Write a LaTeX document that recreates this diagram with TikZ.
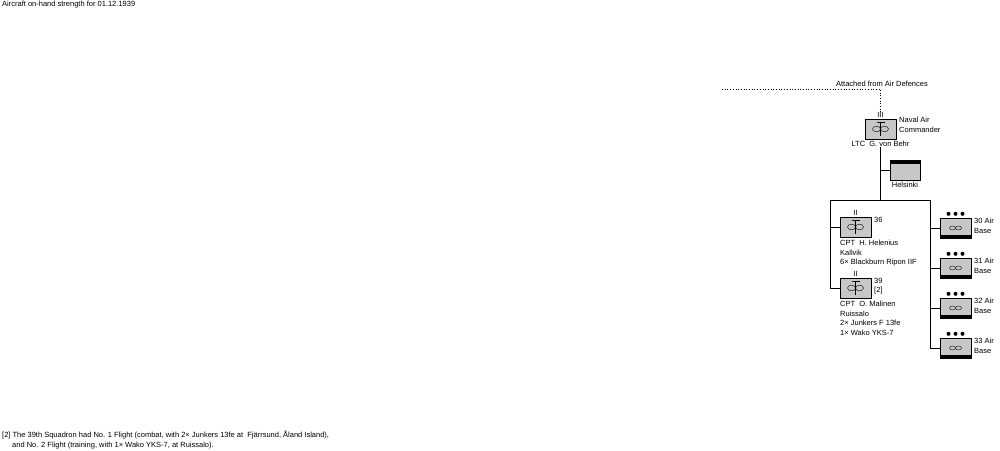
\documentclass[tikz,border=0pt]{standalone}
\usepackage{fontspec}
\setmainfont{Liberation Sans}
\usetikzlibrary{positioning}
\tikzset{
  lbl/.style={inner sep=0pt, font=\fontsize{7.5}{9.5}\selectfont, align=left},
  unitbox/.style={draw, fill=black!22, minimum width=31pt, minimum height=20pt, inner sep=0pt},
}
\newcommand{\propsym}[1]{%
  \draw (#1) ++(-4pt,0) circle[x radius=4pt, y radius=2.8pt];
  \draw (#1) ++(4pt,0) circle[x radius=4pt, y radius=2.8pt];
  \draw (#1) ++(0,-7pt) -- ++(0,14pt) -- ++(-4pt,0) -- ++(8pt,0);}
\newcommand{\basesym}[1]{%
  \draw (#1) ++(-3pt,0) circle[x radius=3pt, y radius=2pt];
  \draw (#1) ++(3pt,0) circle[x radius=3pt, y radius=2pt];}
\begin{document}
\begin{tikzpicture}[x=1pt, y=-1pt]
    \useasboundingbox (0,0) rectangle (1000,450);
    % Texts
    \node[lbl, anchor=north west] (title) at (2,1) {Aircraft on-hand strength for 01.12.1939};
    \node[lbl, anchor=north west] (note) at (2,431) {[2] The 39th Squadron had No. 1 Flight (combat, with 2\texttimes\ Junkers 13fe at \ Fjärrsund, Åland Island),\\
    \hspace{10pt}and No. 2 Flight (training, with 1\texttimes\ Wako YKS-7, at Ruissalo).};

    % Commander
    \coordinate (dotL) at (722,89);
    \coordinate (dotR) at (880.5,89);
    \node[lbl, anchor=south east] (att) at (928,87) {Attached from Air Defences};
    \node[unitbox] (NAC) at (880.5,129) {};
    \node[lbl, anchor=south] (NACsz) at (880.5,118) {III};
    \node[lbl, anchor=north west] (NACname) at (899,117) {Naval Air\\Commander};
    \node[lbl, anchor=north] (NACcmd) at (880.5,141) {LTC \ G. von Behr};
    \draw[dotted, line width=0.7pt] (dotL) -- (dotR) -- (NACsz.north);
    \propsym{NAC}

    % Helsinki
    \node[unitbox, minimum width=30pt] (HEL) at (905,170) {};
    \fill (HEL.north west) rectangle ([yshift=-4pt]HEL.north east);
    \node[lbl, anchor=north] (HELname) at (905,182) {Helsinki};

    % Squadrons
    \node[unitbox] (S36) at (855.5,227) {};
    \node[lbl, anchor=south] (S36sz) at (855.5,216) {II};
    \node[lbl, anchor=north west] (S36no) at (874,217) {36};
    \node[lbl, anchor=north west] (S36txt) at (840,240) {CPT \ H. Helenius\\Kallvik\\6\texttimes\ Blackburn Ripon IIF};
    \node[unitbox] (S39) at (855.5,288) {};
    \node[lbl, anchor=south] (S39sz) at (855.5,277) {II};
    \node[lbl, anchor=north west] (S39no) at (874,278) {39\\{[2]}};
    \node[lbl, anchor=north west] (S39txt) at (840,301) {CPT \ O. Malinen\\Ruissalo\\2\texttimes\ Junkers F 13fe\\1\texttimes\ Wako YKS-7};
    \foreach \s in {S36,S39} {\propsym{\s}}

    % Air bases
    \foreach \n [count=\i from 0] in {30,31,32,33} {
      \node[unitbox] (B\n) at (955.5,{228+40*\i}) {};
      \fill (B\n.south west) rectangle ([yshift=3pt]B\n.south east);
      \node[lbl, anchor=north west] (B\n txt) at (974,{218+40*\i}) {\n\ Air\\Base};
      \foreach \dx in {-7,0,7} \fill ([xshift=\dx pt, yshift=4pt]B\n.north) circle[radius=2pt];
      \basesym{B\n}
    }

    % Connectors
    \coordinate (trunk) at (880.5,200);
    \coordinate (left) at (830,200);
    \coordinate (right) at (930,200);
    \draw (NACcmd.south) -- (trunk);
    \draw (880.5,170) -- (HEL.west);
    \draw (left) -- (right);
    \draw (left) |- (S36.west);
    \draw (left) |- (S39.west);
    \foreach \n in {30,31,32,33} \draw (right) |- (B\n.west);
\end{tikzpicture}
\end{document}
